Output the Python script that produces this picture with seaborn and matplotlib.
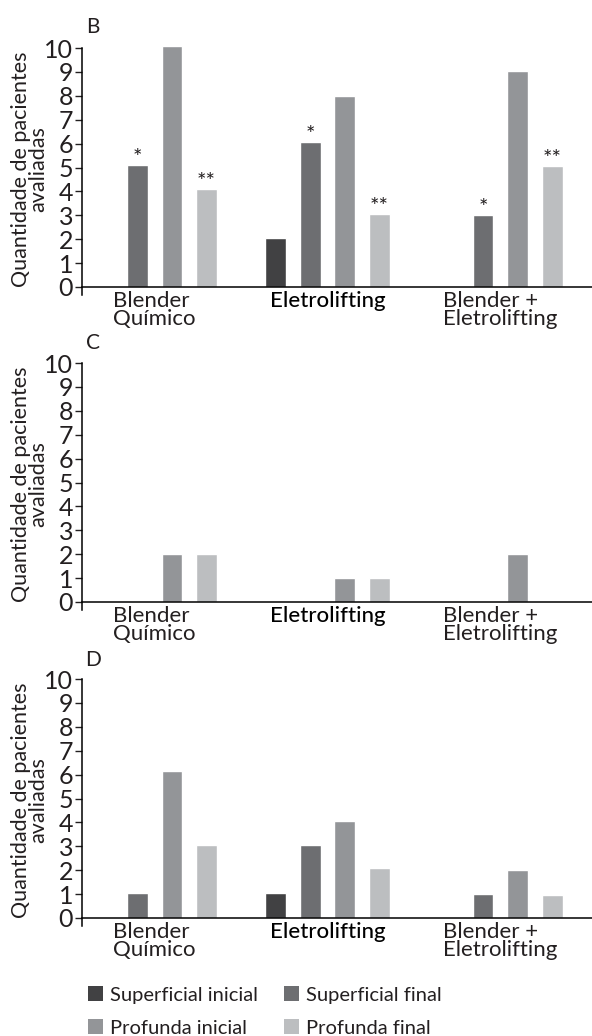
import pandas as pd
import seaborn as sns
import matplotlib.pyplot as plt
from matplotlib.patches import Patch

grupos = ["Blender\nQuímico", "Eletrolifting", "Blender +\nEletrolifting"]
tipos = ["Superficial inicial", "Superficial final", "Profunda inicial", "Profunda final"]
cores = ["#414143", "#6d6e71", "#939598", "#bcbec0"]

# painel B
b_sup_ini = [0, 2.05, 0]
b_sup_fin = [5.1, 6.05, 3.0]
b_prof_ini = [10.1, 8.0, 9.05]
b_prof_fin = [4.1, 3.05, 5.05]

# painel C
c_sup_ini = [0, 0, 0]
c_sup_fin = [0, 0, 0]
c_prof_ini = [2, 1, 2]
c_prof_fin = [2, 1, 0]

# painel D
d_sup_ini = [0, 1.05, 0]
d_sup_fin = [1.05, 3.05, 1.0]
d_prof_ini = [6.15, 4.05, 2.0]
d_prof_fin = [3.05, 2.1, 0.95]

estrelas_b = {1: "*", 3: "**"}


def montar(sup_ini, sup_fin, prof_ini, prof_fin):
    linhas = []
    for tipo, vals in zip(tipos, [sup_ini, sup_fin, prof_ini, prof_fin]):
        for g, v in zip(grupos, vals):
            linhas.append({"grupo": g, "tipo": tipo, "valor": v})
    return pd.DataFrame(linhas)


sns.set_style("ticks")
plt.rcParams["font.family"] = ["Lato", "DejaVu Sans"]
cor_txt = "#231f20"

fig = plt.figure(figsize=(5.92, 10.36), dpi=100)

paineis = [
    ("B", montar(b_sup_ini, b_sup_fin, b_prof_ini, b_prof_fin), 295.3, 27),
    ("C", montar(c_sup_ini, c_sup_fin, c_prof_ini, c_prof_fin), 610.3, 343),
    ("D", montar(d_sup_ini, d_sup_fin, d_prof_ini, d_prof_fin), 926.3, 660),
]

for letra, df, base_px, letra_px in paineis:
    ax = fig.add_axes([82 / 592, 1 - base_px / 1036, 510 / 592, 252 / 1036])
    sns.barplot(data=df, x="grupo", y="valor", hue="tipo", order=grupos,
                hue_order=tipos, palette=cores, gap=0.4, saturation=1,
                legend=False, ax=ax)
    ax.set_xlim(-0.42, 2.53)
    ax.set_ylim(-0.35, 10.2)
    ax.set_yticks(range(11))
    ax.spines["top"].set_visible(False)
    ax.spines["right"].set_visible(False)
    ax.spines["bottom"].set_position(("data", 0))
    ax.spines["left"].set_bounds(-0.35, 10)
    for s in ["left", "bottom"]:
        ax.spines[s].set_color("black")
        ax.spines[s].set_linewidth(1.1)
    ax.tick_params(axis="y", length=5, width=1, pad=1.5, labelsize=18,
                   colors=cor_txt)
    ax.tick_params(axis="x", length=0, pad=3, labelsize=16, colors=cor_txt)
    for lbl in ax.get_xticklabels():
        lbl.set_multialignment("left")
        lbl.set_linespacing(0.85)
        if lbl.get_text() == "Eletrolifting":
            lbl.set_fontweight("medium")
            lbl.set_color("black")
    ax.set_xlabel("")
    ax.set_ylabel("Quantidade de pacientes\navaliadas", fontsize=15.5,
                  linespacing=0.85, color=cor_txt)
    ax.yaxis.set_label_coords(-0.066, 0.5)
    fig.text(93 / 592, 1 - letra_px / 1036, letra, fontsize=15,
             ha="center", va="center", color=cor_txt)

    if letra == "B":
        for idx, marca in estrelas_b.items():
            for bar in ax.containers[idx]:
                h = bar.get_height()
                if h > 0:
                    ax.text(bar.get_x() + bar.get_width() / 2, h + 0.05, marca,
                            ha="center", va="baseline", fontsize=16,
                            color=cor_txt)

ordem = [0, 2, 1, 3]
handles = [Patch(facecolor=cores[i], edgecolor="none", label=tipos[i]) for i in ordem]
fig.legend(handles=handles, ncol=2, loc="upper left",
           bbox_to_anchor=(0.148, 1 - 986 / 1036), frameon=False, fontsize=14.5,
           handlelength=0.75, handleheight=0.8, handletextpad=0.35,
           columnspacing=1.3, labelspacing=0.75, borderpad=0, borderaxespad=0,
           labelcolor=cor_txt)

fig.savefig("out.png", dpi=100)
